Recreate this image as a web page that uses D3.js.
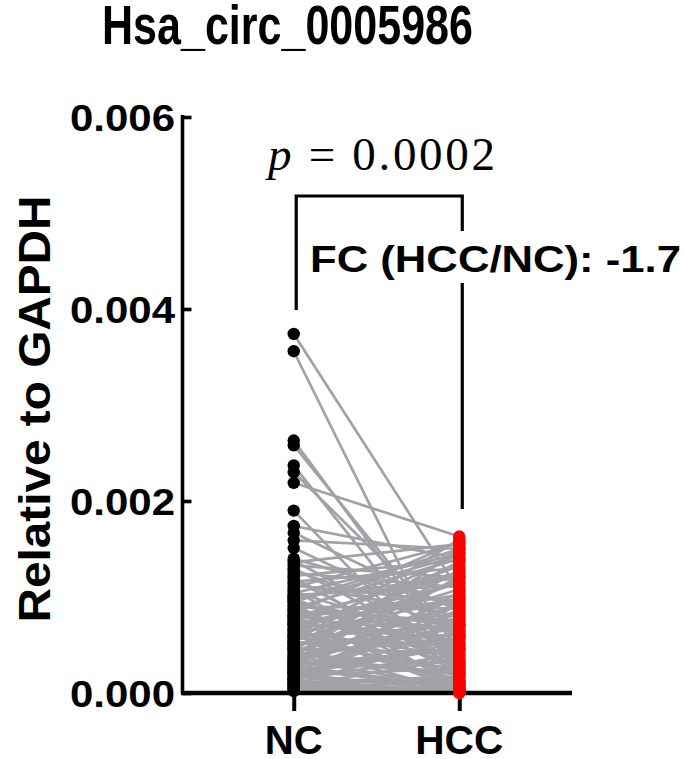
<!DOCTYPE html>
<html><head><meta charset="utf-8">
<script src="https://cdn.jsdelivr.net/npm/d3@7"></script>
<style>body{margin:0;background:#fff}svg{display:block}</style>
</head><body>
<script>
const title = "Hsa_circ_0005986";
const groups = ["NC", "HCC"];
const yTicks = [0, 0.002, 0.004, 0.006];
const yTickLabels = ["0.000", "0.002", "0.004", "0.006"];
const yLabel = "Relative to GAPDH";
const pText = "0.0002";
const fcText = "FC (HCC/NC): -1.7";
// paired values (NC[i] -> HCC[i])
const ncValues = [
 0.00374,0.00356,0.00263,0.00258,0.00237,0.00230,0.00219,0.00190,0.00174,0.00167,
 0.00159,0.00151,0.00136,0.00130,0.00125,0.00120,0.00116,0.00112,0.00108,0.00104,
 0.00100,0.00098,0.00096,0.00094,0.00092,0.00090,0.00088,0.00086,0.00085,0.00083,
 0.00081,0.00080,0.00078,0.00076,0.00075,0.00073,0.00072,0.00070,0.00068,0.00067,
 0.00065,0.00064,0.00062,0.00061,0.00060,0.00058,0.00057,0.00055,0.00054,0.00053,
 0.00051,0.00050,0.00048,0.00047,0.00046,0.00044,0.00043,0.00042,0.00040,0.00039,
 0.00038,0.00036,0.00035,0.00034,0.00033,0.00031,0.00030,0.00029,0.00028,0.00027,
 0.00025,0.00024,0.00023,0.00022,0.00021,0.00020,0.00019,0.00018,0.00017,0.00016,
 0.00015,0.00014,0.00013,0.00012,0.00011,0.00010,0.00009,0.00008,0.00007,0.00006,
 0.00005,0.00004,
 0.00140,0.00138,0.00133,0.00128,0.00122,0.00118,0.00114,0.00110,0.00106,0.00102,
 0.00099,0.00095,0.00091,0.00087,0.00079,0.00071,0.00066,0.00059,0.00052,0.00045,
 0.00037,0.00032,0.00026,0.00020,0.00014,0.00009,0.00003,0.00002
];
const hccValues = [
 0.00106,0.00008,0.00030,0.00045,0.00020,0.00060,0.00163,0.00012,0.00140,0.00085,
 0.00150,0.00070,0.00155,0.00040,0.00110,0.00025,0.00130,0.00095,0.00005,0.00145,
 0.00120,0.00035,0.00150,0.00062,0.00010,0.00088,0.00140,0.00028,0.00075,0.00158,
 0.00047,0.00002,0.00102,0.00066,0.00132,0.00018,0.00055,0.00115,0.00082,0.00004,
 0.00125,0.00038,0.00097,0.00145,0.00013,0.00070,0.00050,0.00108,0.00024,0.00160,
 0.00060,0.00090,0.00001,0.00135,0.00042,0.00078,0.00015,0.00118,0.00057,0.00030,
 0.00148,0.00068,0.00006,0.00093,0.00021,0.00128,0.00045,0.00003,0.00100,0.00072,
 0.00033,0.00152,0.00011,0.00083,0.00052,0.00002,0.00122,0.00026,0.00064,0.00008,
 0.00105,0.00040,0.00001,0.00087,0.00017,0.00003,0.00058,0.00002,0.00036,0.00001,
 0.00012,0.00000,
 0.00090,0.00045,0.00120,0.00065,0.00138,0.00030,0.00080,0.00156,0.00050,0.00112,
 0.00022,0.00143,0.00070,0.00034,0.00126,0.00098,0.00009,0.00115,0.00061,0.00137,
 0.00019,0.00076,0.00004,0.00048,0.00092,0.00014,0.00003,0.00001
];

const W = 685, H = 759;
const svg = d3.select("body").append("svg").attr("width", W).attr("height", H);
const x = d3.scalePoint().domain(groups).range([181, 572]).padding(0.681);
const y = d3.scaleLinear().domain([0, 0.006]).range([693, 117]);
const bold = "'Liberation Sans', Arial, sans-serif";

// title
svg.append("text").attr("x", 287.5).attr("y", 44).attr("text-anchor", "middle")
  .attr("font-family", bold).attr("font-weight", "bold").attr("font-size", 56)
  .attr("textLength", 371).attr("lengthAdjust", "spacingAndGlyphs").text(title);

// lines
const pairs = ncValues.map((v, i) => ({nc: v, hcc: hccValues[i]}));
svg.append("g").selectAll("line").data(pairs).join("line")
  .attr("x1", x("NC")).attr("x2", x("HCC"))
  .attr("y1", d => y(d.nc)).attr("y2", d => y(d.hcc))
  .attr("stroke", "#a2a2a6").attr("stroke-width", 2.7);

// axes
const yAxis = d3.axisRight(y).tickValues(yTicks).tickSize(9).tickFormat("");
const gy = svg.append("g").attr("transform", "translate(182.5,0)").call(yAxis);
gy.select(".domain").attr("stroke", "#000").attr("stroke-width", 3.6).attr("d", `M0,${y(0.006)-2}V${y(0)}`);
gy.selectAll(".tick line").attr("stroke", "#000").attr("stroke-width", 3.6);
yTicks.forEach((t, i) => {
  svg.append("text").attr("x", 175).attr("y", y(t) + 14).attr("text-anchor", "end")
    .attr("font-family", bold).attr("font-weight", "bold").attr("font-size", 37)
    .attr("textLength", 105).attr("lengthAdjust", "spacingAndGlyphs").text(yTickLabels[i]);
});
const xAxis = d3.axisBottom(x).tickSize(18).tickFormat("");
const gx = svg.append("g").attr("transform", `translate(0,${y(0)})`).call(xAxis);
gx.select(".domain").attr("stroke", "#000").attr("stroke-width", 4.5).attr("d", "M181,0H572");
gx.selectAll(".tick line").attr("stroke", "#000").attr("stroke-width", 4);
const xLabW = {NC: 58, HCC: 88};
groups.forEach(g => {
  svg.append("text").attr("x", x(g)).attr("y", 754).attr("text-anchor", "middle")
    .attr("font-family", bold).attr("font-weight", "bold").attr("font-size", 41)
    .attr("textLength", xLabW[g]).attr("lengthAdjust", "spacingAndGlyphs").text(g);
});

// y label
svg.append("text").attr("transform", "translate(50,409) rotate(-90)").attr("text-anchor", "middle")
  .attr("font-family", bold).attr("font-weight", "bold").attr("font-size", 44)
  .attr("textLength", 427).attr("lengthAdjust", "spacingAndGlyphs").text(yLabel);

// dots
svg.append("g").selectAll("circle").data(ncValues).join("circle")
  .attr("cx", x("NC")).attr("cy", d => y(d)).attr("r", 6.2).attr("fill", "#000");
svg.append("g").selectAll("circle").data(hccValues).join("circle")
  .attr("cx", x("HCC")).attr("cy", d => y(d)).attr("r", 6.2).attr("fill", "#ff0000");

// bracket
const bx1 = x("NC") + 2.5, bx2 = x("HCC") + 3;
svg.append("path").attr("d", `M${bx1},310V196H${bx2}V509`)
  .attr("fill", "none").attr("stroke", "#000").attr("stroke-width", 3.2);
svg.append("rect").attr("x", 305).attr("y", 231).attr("width", 380).attr("height", 52).attr("fill", "#fff");
svg.append("text").attr("x", 310).attr("y", 272)
  .attr("font-family", bold).attr("font-weight", "bold").attr("font-size", 37)
  .attr("textLength", 371).attr("lengthAdjust", "spacingAndGlyphs").text(fcText);
const pt = svg.append("text").attr("x", 268).attr("y", 170)
  .attr("font-family", "'Liberation Serif', 'Times New Roman', serif").attr("font-size", 47)
  .attr("textLength", 227).attr("lengthAdjust", "spacing");
pt.append("tspan").attr("font-style", "italic").text("p");
pt.append("tspan").text(" = " + pText);
</script>
</body></html>
